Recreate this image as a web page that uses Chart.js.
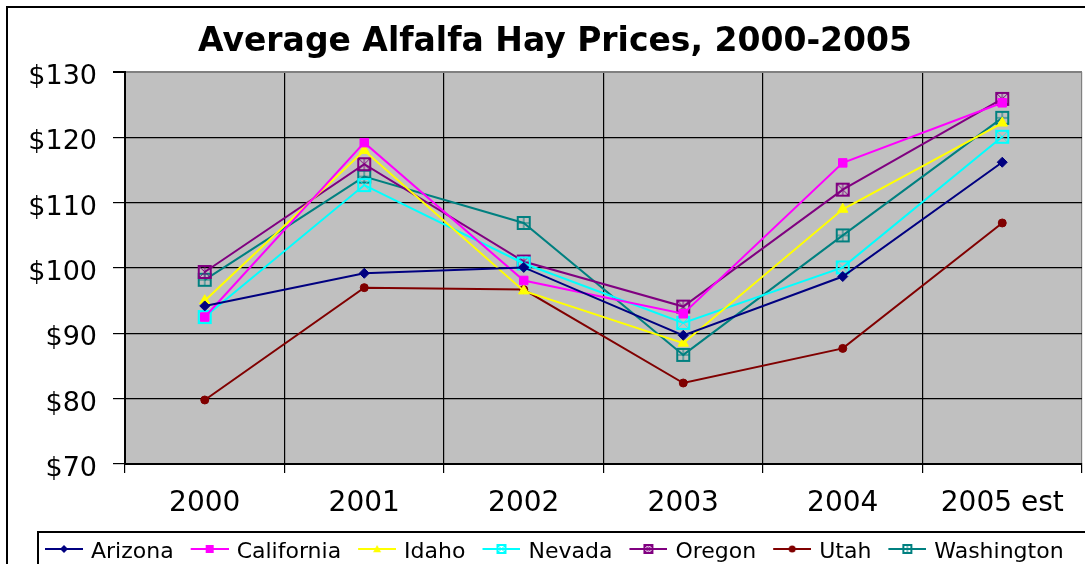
<!DOCTYPE html>
<html>
<head>
<meta charset="utf-8">
<script src="https://cdn.jsdelivr.net/npm/chart.js@4.4.0/dist/chart.umd.min.js"></script>
<style>
  html, body { margin: 0; padding: 0; background: #fff; overflow: hidden; }
  #wrap { width: 1085px; height: 564px; overflow: hidden; position: relative; }
  canvas { display: block; }
</style>
</head>
<body>
<div id="wrap"><canvas id="c" width="1100" height="564" style="width:1100px;height:564px"></canvas></div>
<script>
// ---- data ----
const categories = ['2000', '2001', '2002', '2003', '2004', '2005 est'];
const arizona    = [94.2, 99.2, 100.1, 89.7, 98.7, 116.2];
const california = [92.5, 119.2, 98.1, 93.0, 116.1, 125.3];
const idaho      = [95.0, 118.0, 96.5, 88.5, 109.0, 122.2];
const nevada     = [92.5, 112.7, 100.7, 91.6, 100.1, 120.1];
const oregon     = [99.4, 115.9, 101.0, 94.1, 112.0, 125.9];
const utah       = [79.8, 97.0, 96.7, 82.4, 87.7, 106.9];
const washington = [98.2, 114.0, 106.9, 86.7, 105.0, 123.0];
const seriesNames = ['Arizona', 'California', 'Idaho', 'Nevada', 'Oregon', 'Utah', 'Washington'];
const yTicks = [70, 80, 90, 100, 110, 120, 130];
const titleText = 'Average Alfalfa Hay Prices, 2000-2005';

// ---- styling ----
const colors = ['#000080', '#FF00FF', '#FFFF00', '#00FFFF', '#800080', '#800000', '#008080'];
const shapes = ['diamond', 'square', 'triangle', 'boxX', 'boxXV', 'circle', 'boxPlus'];
const FONT = 'DejaVu Sans';

function drawShape(ctx, shape, color, cx, cy, s) {
  ctx.fillStyle = color; ctx.strokeStyle = color;
  ctx.beginPath();
  if (shape === 'diamond') {
    ctx.moveTo(cx, cy - s); ctx.lineTo(cx + s, cy); ctx.lineTo(cx, cy + s); ctx.lineTo(cx - s, cy); ctx.closePath(); ctx.fill();
  } else if (shape === 'square') {
    ctx.fillRect(cx - s, cy - s, 2 * s, 2 * s);
  } else if (shape === 'triangle') {
    ctx.moveTo(cx, cy - s); ctx.lineTo(cx + s, cy + s * 0.8); ctx.lineTo(cx - s, cy + s * 0.8); ctx.closePath(); ctx.fill();
  } else if (shape === 'circle') {
    ctx.arc(cx, cy, s, 0, Math.PI * 2); ctx.fill();
  } else {
    ctx.lineWidth = 2;
    ctx.strokeRect(cx - s, cy - s, 2 * s, 2 * s);
    ctx.lineWidth = 1;
    ctx.beginPath();
    if (shape === 'boxX' || shape === 'boxXV') {
      ctx.moveTo(cx - s, cy - s); ctx.lineTo(cx + s, cy + s);
      ctx.moveTo(cx + s, cy - s); ctx.lineTo(cx - s, cy + s);
    }
    if (shape === 'boxXV') { ctx.moveTo(cx, cy - s); ctx.lineTo(cx, cy + s); }
    if (shape === 'boxPlus') {
      ctx.moveTo(cx, cy - s); ctx.lineTo(cx, cy + s);
      ctx.moveTo(cx - s, cy); ctx.lineTo(cx + s, cy);
    }
    ctx.stroke();
  }
}
function markerCanvas(shape, color) {
  const c = document.createElement('canvas');
  c.width = 16; c.height = 16;
  drawShape(c.getContext('2d'), shape, color, 8, 8, 6);
  return c;
}
function legendIcon(shape, color) {
  const c = document.createElement('canvas');
  c.width = 48; c.height = 20;
  const g = c.getContext('2d');
  g.strokeStyle = color; g.lineWidth = 2;
  g.beginPath(); g.moveTo(10, 7); g.lineTo(48, 7); g.stroke();
  const small = { diamond: 4, square: 4, triangle: 4, circle: 3.5, boxX: 4, boxXV: 4, boxPlus: 4 };
  drawShape(g, shape, color, 29, 7, small[shape]);
  return c;
}

const builtinStyle = { diamond: 'rectRot', square: 'rect', triangle: 'triangle', circle: 'circle' };
const builtinRadius = { diamond: 5, square: 6, triangle: 6, circle: 4 };
const seriesData = [arizona, california, idaho, nevada, oregon, utah, washington];

const datasets = seriesNames.map((name, i) => {
  const shp = shapes[i];
  const custom = !builtinStyle[shp];
  return {
    label: name,
    data: seriesData[i],
    borderColor: colors[i],
    backgroundColor: colors[i],
    borderWidth: 2,
    tension: 0,
    pointStyle: custom ? markerCanvas(shp, colors[i]) : builtinStyle[shp],
    pointRadius: custom ? 6 : builtinRadius[shp],
    pointBackgroundColor: colors[i],
    pointBorderColor: colors[i],
    pointBorderWidth: 1
  };
});
const legendIcons = seriesNames.map((n, i) => legendIcon(shapes[i], colors[i]));

const decoPlugin = {
  id: 'deco',
  beforeDraw(chart) {
    const { ctx, chartArea: a } = chart;
    ctx.save();
    ctx.fillStyle = '#fff';
    ctx.fillRect(0, 0, chart.width, chart.height);
    ctx.fillStyle = '#C0C0C0';
    ctx.fillRect(a.left, a.top, a.right - a.left, a.bottom - a.top);
    ctx.restore();
  },
  afterDraw(chart) {
    const { ctx } = chart;
    const lg = chart.legend;
    ctx.save();
    ctx.strokeStyle = '#000';
    ctx.lineWidth = 2;
    ctx.strokeRect(7, 7, 2000, 2000);
    ctx.strokeRect(lg.left + 10, lg.top + 1, 2000, 200);
    ctx.restore();
  }
};

new Chart(document.getElementById('c'), {
  type: 'line',
  data: { labels: categories, datasets },
  plugins: [decoPlugin],
  options: {
    responsive: false,
    animation: false,
    devicePixelRatio: 1,
    layout: { padding: { left: 28, right: 18, top: 0, bottom: -9 } },
    plugins: {
      tooltip: { enabled: false },
      title: {
        display: true,
        text: titleText,
        color: '#000',
        font: { family: FONT, size: 33, weight: 'bold' },
        padding: { top: 23, bottom: 9.5 }
      },
      legend: {
        display: true,
        position: 'bottom',
        align: 'start',
        maxHeight: 42,
        labels: {
          font: { family: FONT, size: 22 },
          color: '#000',
          padding: 10,
          usePointStyle: true,
          pointStyleWidth: 42,
          generateLabels: (chart) => seriesNames.map((n, i) => ({
            text: n,
            pointStyle: legendIcons[i],
            fillStyle: colors[i],
            strokeStyle: colors[i],
            lineWidth: 0,
            hidden: false,
            datasetIndex: i
          }))
        }
      }
    },
    scales: {
      x: {
        offset: true,
        grid: {
          offset: true,
          color: (c) => (c.type === 'tick' ? '#000' : '#808080'),
          tickColor: '#000',
          lineWidth: 1.2,
          tickLength: 9,
          drawOnChartArea: true
        },
        border: { color: '#000', width: 2 },
        ticks: { color: '#000', font: { family: FONT, size: 28 }, padding: 14, maxRotation: 0, autoSkip: false },
        afterFit: (s) => { s.height = 67; }
      },
      y: {
        min: 70, max: 130,
        afterBuildTicks: (s) => { s.ticks = yTicks.map(v => ({ value: v })); },
        grid: {
          color: (c) => (c.tick && c.tick.value === 130 ? '#808080' : '#000'),
          tickColor: '#000',
          lineWidth: (c) => (c.tick && c.tick.value === 130 ? 2 : 1.2),
          tickLength: 12
        },
        border: { color: '#000', width: 2 },
        ticks: {
          color: '#000',
          font: { family: FONT, size: 27 },
          padding: 16,
          labelOffset: 5,
          callback: (v) => '$' + v
        },
        afterFit: (s) => { s.width = 97; }
      }
    }
  }
});
</script>
</body>
</html>
